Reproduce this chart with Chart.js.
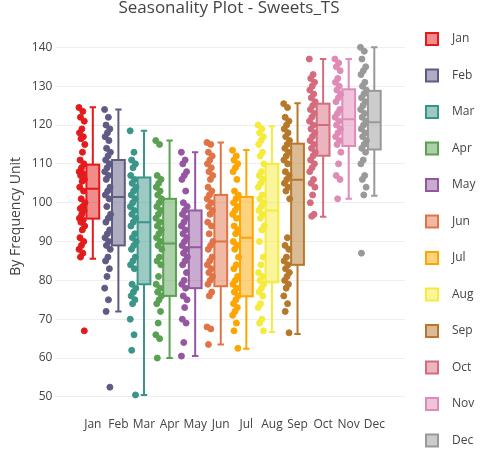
<!DOCTYPE html>
<html>
<head>
<meta charset="utf-8">
<script src="https://cdn.jsdelivr.net/npm/chart.js@4"></script>
<style>
  html, body { margin: 0; padding: 0; background: #fff; }
  #wrap { width: 492px; height: 453px; }
</style>
</head>
<body>
<div id="wrap"><canvas id="seasonality"></canvas></div>
<script>
const months = ["Jan","Feb","Mar","Apr","May","Jun","Jul","Aug","Sep","Oct","Nov","Dec"];
const colors = ["#e41a1c","#5f5b84","#3a9688","#5aa152","#9457a0","#e07447","#ffa500","#f5eb3a","#b8782a","#d56c7d","#e08ab8","#999999"];
const chartTitle = 'Seasonality Plot - Sweets_TS';

// box statistics per month
const whiskLow  = [85.6, 72, 50.5, 60, 60.5, 63.5, 62.4, 66.7, 66.2, 96.4, 101, 101.8];
const q1        = [95.9, 89, 79, 76, 78, 78.5, 75.9, 79.5, 84, 112.1, 114.6, 113.7];
const median    = [103.6, 101.5, 95, 89.5, 88.5, 90, 91, 98, 105.9, 120, 121.5, 120.7];
const q3        = [109.8, 111, 106.5, 101, 98, 102, 101.5, 110, 115.2, 125.5, 129.2, 128.8];
const whiskHigh = [124.6, 124, 118.5, 116, 113, 115.5, 113.6, 119.7, 125.6, 137, 137, 140];

// observations per month
const obsJan = [124.5,123.5,122,121,119,118,117,116.5,115,113,111,110,109,108,107.5,107,106,105.5,104,103,101,100,99,98.5,98,97,96,95.5,95,94,93,91,90,89,88,87,86,67];
const obsFeb = [124,122,120,119,118,117,116,114,113,112,111,110,109,108,107,106,104,103,102,101,99,97,96,95,93,92,91,90,89,88,86,85,83,81,78,75,72,52.5];
const obsMar = [118.5,113,111,110,109,107,106,105,104,103,102,101,100,99,98,97,96,95,94,92,91,90,89,88,86,85,84,83,79,78,77,76,75,74,70,66,62,50.5];
const obsApr = [116,115,107,106,105,104,103,102,101,100,99,98,97,96,95,94,93,92,91,90,89,88,86,85,84,81,79,78,77,76,75,74,72,69,66,65,60];
const obsMay = [113,111,110,108,107,106,103,100,99,98,97,96,95,94,93,92,91,90,89,88,87,86,85,84,82,80,79,78,76,75,73,70,69,64,60.5];
const obsJun = [115.5,115,113,112,111,110,109,108,107,106,104,103,102,101,100,99,98,97,95,94,92,90,89,88,86,85,84,83,82,81,80,79,77,76,68,67.5,63.5];
const obsJul = [113.5,112,111,110,109,108,106,103,102,101,100,99,98,97,96,94,93,92,90,89,88,86,84,83,81,80,79,78,77,76,75,74,73,72,71,69,67,62.5];
const obsAug = [120,119,118,117,116,115,113,112,110,108,107,106,105,104,102,101,100,99,98,97,96,94,93,90,86,84,82,81,80,79,78,77,76,74,73,70,69,67];
const obsSep = [125.5,124.5,122,121,120,119,118,117,116,115,114,113,112,111,110,108,107,106,105,104,103,101,91,89,88,86,85,84,83,82,81,80,79,78,76,74,72,66.5];
const obsOct = [137,133,132,131,130,129,128,127,126,125,124,123,122,121,120,119,118,117,116,115,114,113,112,111,110,109,108,106,105,104,102,100,97,96.5];
const obsNov = [137,136,135,134,132,131,130,129,128,127,126,124,123,122,121,120,119,118,117,116,115,113,110,107,106,101];
const obsDec = [140,139,137,135,134,133,131,130,129,128,127,126,125,124,123,122,121,120,119,118,117,116,115,114,113,111,110,107,106,104,102,87];
const observations = [obsJan,obsFeb,obsMar,obsApr,obsMay,obsJun,obsJul,obsAug,obsSep,obsOct,obsNov,obsDec];

const yTicks = [50,60,70,80,90,100,110,120,130,140];

function alpha(hex, a) {
  const n = parseInt(hex.slice(1), 16);
  return `rgba(${n >> 16},${(n >> 8) & 255},${n & 255},${a})`;
}

const datasets = months.map((m, i) => ({
  type: 'scatter',
  label: m,
  data: observations[i].map((v, k) => ({ x: i - 0.42 + (((k * 0.618) % 1) - 0.5) * 0.24, y: v })),
  backgroundColor: colors[i],
  borderColor: colors[i],
  pointRadius: 3,
  pointHoverRadius: 3
}));

const boxPlugin = {
  id: 'boxes',
  beforeDatasetsDraw(chart) {
    const { ctx, scales: { x, y } } = chart;
    const half = 0.25;
    ctx.save();
    ctx.lineWidth = 2;
    months.forEach((m, i) => {
      const l = x.getPixelForValue(i - half), r = x.getPixelForValue(i + half);
      const c = x.getPixelForValue(i);
      const cap = (r - l) / 4;
      ctx.strokeStyle = colors[i];
      ctx.fillStyle = alpha(colors[i], 0.5);
      const top = y.getPixelForValue(q3[i]), bot = y.getPixelForValue(q1[i]);
      ctx.fillRect(l, top, r - l, bot - top);
      ctx.strokeRect(l, top, r - l, bot - top);
      const md = y.getPixelForValue(median[i]);
      const hi = y.getPixelForValue(whiskHigh[i]), lo = y.getPixelForValue(whiskLow[i]);
      ctx.beginPath();
      ctx.moveTo(l, md); ctx.lineTo(r, md);
      ctx.moveTo(c, top); ctx.lineTo(c, hi);
      ctx.moveTo(c - cap, hi); ctx.lineTo(c + cap, hi);
      ctx.moveTo(c, bot); ctx.lineTo(c, lo);
      ctx.moveTo(c - cap, lo); ctx.lineTo(c + cap, lo);
      ctx.stroke();
    });
    ctx.restore();
  }
};

// title and legend drawn in the margins
const legendPlugin = {
  id: 'sideLegend',
  afterDraw(chart) {
    const ctx = chart.ctx;
    ctx.save();
    ctx.font = '17px "Open Sans"';
    ctx.fillStyle = '#444';
    ctx.textAlign = 'center';
    ctx.textBaseline = 'middle';
    ctx.fillText(chartTitle, 229, 8);
    ctx.textAlign = 'left';
    ctx.font = '12px "Open Sans"';
    ctx.lineWidth = 2;
    months.forEach((m, i) => {
      const cy = 39 + i * 36.5;
      ctx.fillStyle = alpha(colors[i], 0.5);
      ctx.strokeStyle = colors[i];
      ctx.fillRect(426, cy - 6, 12, 12);
      ctx.strokeRect(426, cy - 6, 12, 12);
      ctx.fillStyle = '#444';
      ctx.fillText(m, 452, cy);
    });
    ctx.restore();
  }
};

new Chart(document.getElementById('seasonality'), {
  data: { datasets },
  plugins: [boxPlugin, legendPlugin],
  options: {
    responsive: true,
    maintainAspectRatio: false,
    animation: false,
    layout: { padding: { top: 26, right: 87, bottom: 18, left: 4 } },
    plugins: {
      legend: { display: false },
      tooltip: { enabled: false }
    },
    scales: {
      x: {
        type: 'linear',
        min: -1.15,
        max: 12.2,
        grid: { display: false },
        border: { display: false },
        afterBuildTicks: axis => { axis.ticks = months.map((m, i) => ({ value: i })); },
        ticks: {
          autoSkip: false,
          maxRotation: 0,
          color: '#444',
          font: { family: 'Open Sans', size: 12 },
          callback: v => months[v]
        }
      },
      y: {
        min: 47.5,
        max: 145.5,
        afterBuildTicks: axis => { axis.ticks = yTicks.map(v => ({ value: v })); },
        grid: { color: '#eeeeee' },
        border: { display: false },
        ticks: { color: '#444', font: { family: 'Open Sans', size: 12 } },
        title: {
          display: true,
          text: 'By Frequency Unit',
          color: '#444',
          font: { family: 'Open Sans', size: 14 }
        }
      }
    }
  }
});
</script>
</body>
</html>
